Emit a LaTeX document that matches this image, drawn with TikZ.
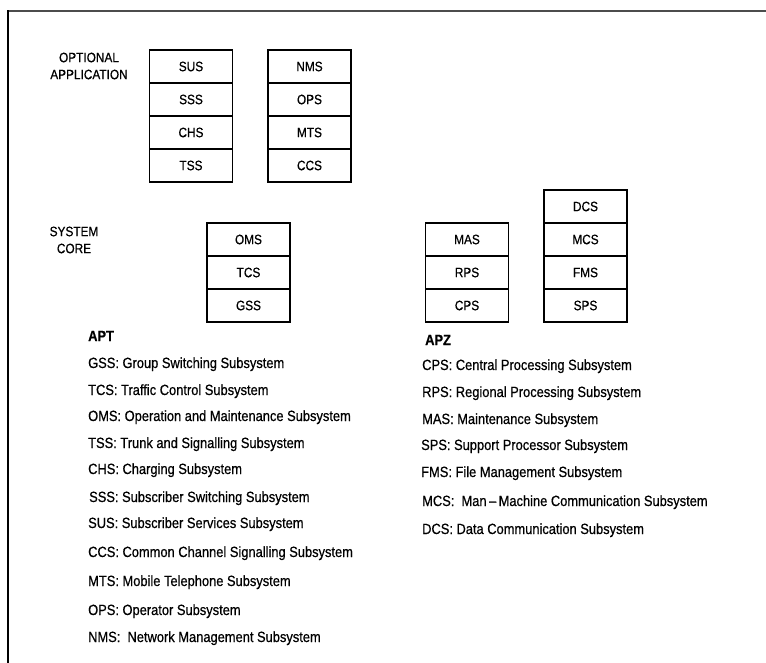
\documentclass[tikz,border=0pt]{standalone}
\usepackage{fontspec}
\setmainfont{Liberation Sans}[FakeStretch=0.87,FakeBold=0.6]
\newcommand{\cellfont}{\fontsize{13.6}{17}\selectfont}
\newcommand{\listfont}{\fontsize{14.8}{17}\selectfont}

\begin{document}
\begin{tikzpicture}[x=1pt,y=-1pt,
    cell/.style={draw,line width=1.2pt,minimum width=83,minimum height=33,inner sep=0pt,font=\cellfont},
    side/.style={align=center,font=\cellfont},
    entry/.style={anchor=base west,inner sep=0pt,font=\listfont}]
    \useasboundingbox (0,0) rectangle (766,663);
    \draw[line width=1.8pt,black!70] (8,11) -- (766,11);
    \draw[line width=1.8pt] (8,10.1) -- (8,663);

    \node[side] (optional) at (89,66) {OPTIONAL\\APPLICATION};
    \node[side] (core) at (74,240) {SYSTEM\\CORE};

    \begin{scope}
      \node[cell] (sus) at (191,66.5) {SUS};
      \node[cell] (sss) at (191,99.5) {SSS};
      \node[cell] (chs) at (191,132.5) {CHS};
      \node[cell] (tss) at (191,165.5) {TSS};
      \node[cell] (nms) at (309.5,66.5) {NMS};
      \node[cell] (ops) at (309.5,99.5) {OPS};
      \node[cell] (mts) at (309.5,132.5) {MTS};
      \node[cell] (ccs) at (309.5,165.5) {CCS};
      \node[cell] (oms) at (248.5,239.5) {OMS};
      \node[cell] (tcs) at (248.5,272.5) {TCS};
      \node[cell] (gss) at (248.5,305.5) {GSS};
      \node[cell] (mas) at (467,239.5) {MAS};
      \node[cell] (rps) at (467,272.5) {RPS};
      \node[cell] (cps) at (467,305.5) {CPS};
      \node[cell] (dcs) at (585.5,206.5) {DCS};
      \node[cell] (mcs) at (585.5,239.5) {MCS};
      \node[cell] (fms) at (585.5,272.5) {FMS};
      \node[cell] (sps) at (585.5,305.5) {SPS};
    \end{scope}

    \node[entry,font=\listfont\bfseries] (apt) at (88,341) {APT};
    \node[entry] (gss-text) at (88,368) {GSS: Group Switching Subsystem};
    \node[entry] (tcs-text) at (88,395) {TCS: Traffic Control Subsystem};
    \node[entry] (oms-text) at (88,421) {OMS: Operation and Maintenance Subsystem};
    \node[entry] (tss-text) at (88,448) {TSS: Trunk and Signalling Subsystem};
    \node[entry] (chs-text) at (88,474) {CHS: Charging Subsystem};
    \node[entry] (sss-text) at (89,502) {SSS: Subscriber Switching Subsystem};
    \node[entry] (sus-text) at (88,528) {SUS: Subscriber Services Subsystem};
    \node[entry] (ccs-text) at (88,557) {CCS: Common Channel Signalling Subsystem};
    \node[entry] (mts-text) at (88,586) {MTS: Mobile Telephone Subsystem};
    \node[entry] (ops-text) at (88,615) {OPS: Operator Subsystem};
    \node[entry] (nms-text) at (88,642) {NMS:\ \ Network Management Subsystem};

    \node[entry,font=\listfont\bfseries] (apz) at (425,345) {APZ};
    \node[entry] (cps-text) at (422,370) {CPS: Central Processing Subsystem};
    \node[entry] (rps-text) at (422,397) {RPS: Regional Processing Subsystem};
    \node[entry] (mas-text) at (422,424) {MAS: Maintenance Subsystem};
    \node[entry] (sps-text) at (421,450) {SPS: Support Processor Subsystem};
    \node[entry] (fms-text) at (421,477) {FMS: File Management Subsystem};
    \node[entry] (mcs-text) at (422,506) {MCS:\ \ Man\,--\,Machine Communication Subsystem};
    \node[entry] (dcs-text) at (422,534) {DCS: Data Communication Subsystem};
  \end{tikzpicture}
\end{document}
